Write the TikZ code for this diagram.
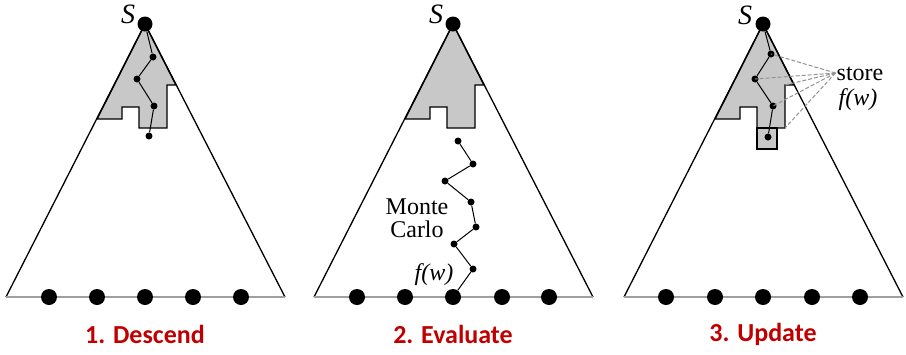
\documentclass[tikz,border=0pt]{standalone}
\usepackage{fontspec}
\setmainfont{Liberation Serif}
\newfontfamily\titlefont{Carlito}
\definecolor{darkred1}{RGB}{192, 0, 0}
\definecolor{shade1}{RGB}{200, 200, 200}
\usetikzlibrary{positioning, calc}

\tikzset{
  root/.style={circle, fill=black, inner sep=0pt, minimum size=15pt},
  leaf/.style={circle, fill=black, inner sep=0pt, minimum size=16pt},
  move/.style={circle, fill=black, inner sep=0pt, minimum size=7pt},
  side/.style={draw=black, line width=1.3pt},
  ground/.style={draw=gray!75, line width=2pt},
  explored/.style={draw=black, fill=shade1, line width=1.4pt},
  link/.style={draw=black, line width=1pt},
  memo/.style={draw=gray!85, dashed, dash pattern=on 4pt off 2pt, line width=1pt},
  lbl/.style={font=\fontsize{24}{23}\selectfont, inner sep=0pt, align=center},
  rootlbl/.style={font=\itshape\fontsize{28}{28}\selectfont, inner sep=0pt},
  title/.style={font=\titlefont\bfseries\fontsize{26}{28}\selectfont, text=darkred1, inner sep=0pt}
}

\begin{document}
\begin{tikzpicture}[x=1pt, y=-1pt]
  \useasboundingbox (0,0) rectangle (906,354);

  % 1. Descend
  \begin{scope}[shift={(145,24)}]
    \coordinate (p1bl) at (-139,273);
    \coordinate (p1br) at (140,273);
    \filldraw[explored] (0,0) -- (-48,95) -- (-23,95) -- (-23,83) -- (-6,83) -- (-6,104)
      -- (22,104) -- (22,61) -- (31,61) -- cycle;
    \draw[side] (p1bl) -- (0,0) -- (p1br);
    \draw[ground] (p1bl) -- (p1br);
    \node[root] (p1s) at (0,0) {};
    \node[rootlbl] at (-17,-10) {S};
    \foreach \i/\x in {1/-96,2/-48,3/0,4/48,5/96}
      \node[leaf] (p1l\i) at (\x,273) {};
    \node[move] (p1a) at (8,33) {};
    \node[move] (p1b) at (-8,55) {};
    \node[move] (p1c) at (9,82) {};
    \node[move] (p1d) at (4,112) {};
    \draw[link] (p1s) -- (p1a) -- (p1b) -- (p1c) -- (p1d);
    \node[title] at (0,310) {1. Descend};
  \end{scope}

  % 2. Evaluate
  \begin{scope}[shift={(453,24)}]
    \coordinate (p2bl) at (-139,273);
    \coordinate (p2br) at (140,273);
    \filldraw[explored] (0,0) -- (-48,95) -- (-23,95) -- (-23,83) -- (-6,83) -- (-6,104)
      -- (22,104) -- (22,61) -- (31,61) -- cycle;
    \draw[side] (p2bl) -- (0,0) -- (p2br);
    \draw[ground] (p2bl) -- (p2br);
    \node[root] (p2s) at (0,0) {};
    \node[rootlbl] at (-17,-10) {S};
    \foreach \i/\x in {1/-96,2/-48,3/0,4/49,5/96}
      \node[leaf] (p2l\i) at (\x,273) {};
    \node[move] (p2a) at (5,117) {};
    \node[move] (p2b) at (20,140) {};
    \node[move] (p2c) at (-8,157) {};
    \node[move] (p2d) at (18,178) {};
    \node[move] (p2e) at (23,203) {};
    \node[move] (p2f) at (1,220) {};
    \node[move] (p2g) at (20,245) {};
    \draw[link] (p2a) -- (p2b) -- (p2c) -- (p2d) -- (p2e) -- (p2f) -- (p2g) -- (p2l3);
    \node[lbl] (mc) at (-36,194) {Monte\\Carlo};
    \node[lbl] (fw) at (-19,251) {\textit{f(w)}};
    \node[title] at (0,310) {2. Evaluate};
  \end{scope}

  % 3. Update
  \begin{scope}[shift={(763,24)}]
    \coordinate (p3bl) at (-139,273);
    \coordinate (p3br) at (140,273);
    \filldraw[explored] (0,0) -- (-48,95) -- (-23,95) -- (-23,83) -- (-6,83) -- (-6,104)
      -- (22,104) -- (22,61) -- (31,61) -- cycle;
    \filldraw[explored] (-6,104) rectangle (14,125);
    \draw[side] (p3bl) -- (0,0) -- (p3br);
    \draw[ground] (p3bl) -- (p3br);
    \node[root] (p3s) at (0,0) {};
    \node[rootlbl] at (-18,-9) {S};
    \foreach \i/\x in {1/-97,2/-48,3/0,4/49,5/97}
      \node[leaf] (p3l\i) at (\x,273) {};
    \node[move] (p3a) at (8,30) {};
    \node[move] (p3b) at (-8,55) {};
    \node[move] (p3c) at (10,82) {};
    \node[move] (p3d) at (5,113) {};
    \draw[link] (p3s) -- (p3a) -- (p3b) -- (p3c) -- (p3d);
    \coordinate (p3top) at (22,61);
    \coordinate (p3bot) at (22,104);
    \node[lbl] (store) at (97,50) {store};
    \node[lbl] (fw3) at (95,76) {\textit{f(w)}};
    \coordinate (hub) at ([xshift=-1pt, yshift=1pt]store.west);
    \foreach \t in {p3a.center, p3b.center, p3top, p3c.center, p3bot}
      \draw[memo] (hub) -- (\t);
    \node[title] at (0,310) {3. Update};
  \end{scope}
\end{tikzpicture}
\end{document}
